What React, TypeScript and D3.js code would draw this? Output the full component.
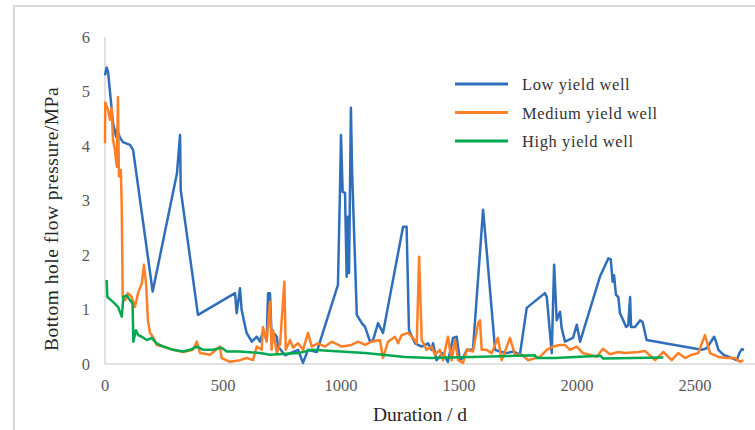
import React from "react";
import * as d3 from "d3";

// [duration (d), bottom hole flow pressure (MPa)]
const lowYield: [number, number][] = [
  [0, 5.3], [7, 5.44], [13, 5.36], [34, 4.42], [47, 4.17], [51, 4.3], [64, 4.15], [76, 4.07],
  [106, 4.02], [119, 3.93], [202, 1.33], [305, 3.5], [318, 4.2], [321, 3.19], [394, 0.9],
  [551, 1.3], [558, 0.93], [572, 1.39], [579, 0.99], [600, 0.57], [622, 0.41], [643, 0.5],
  [657, 0.41], [669, 0.59], [685, 0.44], [691, 1.3], [699, 1.3], [705, 0.62], [728, 0.5],
  [733, 0.32], [763, 0.16], [818, 0.26], [839, 0.02], [860, 0.26], [897, 0.22], [987, 1.45],
  [996, 3.25], [1000, 4.2], [1007, 3.16], [1017, 3.14], [1024, 1.6], [1028, 2.7], [1034, 1.67],
  [1042, 4.7], [1047, 3.53], [1067, 0.9], [1088, 0.75], [1102, 0.68], [1123, 0.41], [1136, 0.44],
  [1157, 0.75], [1178, 0.57], [1263, 2.52], [1278, 2.52], [1288, 0.62], [1314, 0.38], [1342, 0.32],
  [1369, 0.38], [1384, 0.26], [1390, 0.38], [1405, 0.07], [1432, 0.2], [1453, 0.04], [1475, 0.48],
  [1490, 0.5], [1504, 0.07], [1517, 0.11], [1533, 0.26], [1559, 0.26], [1602, 2.83], [1617, 2.09],
  [1653, 0.26], [1674, 0.23], [1702, 0.2], [1729, 0.23], [1758, 0.17], [1787, 1.03], [1864, 1.3],
  [1872, 1.23], [1893, 0.2], [1903, 1.82], [1914, 0.8], [1928, 0.96], [1935, 0.66], [1949, 0.41],
  [1983, 0.48], [1999, 0.72], [2013, 0.41], [2097, 1.6], [2133, 1.94], [2143, 1.92], [2151, 1.51],
  [2157, 1.63], [2165, 1.27], [2175, 1.23], [2182, 0.93], [2196, 0.8], [2208, 0.68], [2217, 0.71],
  [2225, 1.23], [2229, 0.68], [2246, 0.68], [2267, 0.8], [2278, 0.77], [2295, 0.44], [2528, 0.26],
  [2550, 0.29], [2581, 0.5], [2589, 0.41], [2599, 0.26], [2620, 0.17], [2677, 0.07], [2688, 0.2],
  [2698, 0.27], [2708, 0.26],
];

const mediumYield: [number, number][] = [
  [0, 4.05], [1, 4.8], [13, 4.66], [21, 4.48], [28, 4.7], [34, 4.11], [42, 3.93], [50, 3.62],
  [55, 4.9], [59, 3.44], [67, 3.56], [71, 2.89], [75, 1.23], [85, 1.17], [97, 1.3], [113, 1.23],
  [127, 1.05], [140, 1.3], [156, 1.48], [165, 1.82], [174, 1.48], [182, 0.8], [191, 0.57],
  [203, 0.5], [219, 0.35], [246, 0.32], [288, 0.26], [331, 0.22], [373, 0.26], [389, 0.41],
  [403, 0.2], [445, 0.17], [487, 0.32], [494, 0.11], [530, 0.04], [572, 0.07], [600, 0.11],
  [627, 0.07], [643, 0.32], [664, 0.26], [669, 0.68], [685, 0.41], [699, 1.14], [706, 0.26],
  [712, 0.62], [728, 0.2], [742, 0.38], [760, 1.51], [766, 0.26], [784, 0.44], [797, 0.3],
  [818, 0.38], [839, 0.26], [860, 0.57], [876, 0.32], [903, 0.38], [932, 0.32], [961, 0.41],
  [1003, 0.32], [1045, 0.35], [1072, 0.41], [1102, 0.35], [1130, 0.41], [1165, 0.44], [1178, 0.11],
  [1199, 0.41], [1229, 0.5], [1242, 0.38], [1257, 0.53], [1284, 0.57], [1305, 0.48], [1321, 0.38],
  [1331, 1.97], [1342, 0.44], [1363, 0.26], [1384, 0.32], [1398, 0.17], [1419, 0.26], [1432, 0.07],
  [1453, 0.5], [1469, 0.07], [1483, 0.44], [1496, 0.07], [1517, 0.02], [1533, 0.26], [1559, 0.23],
  [1575, 0.59], [1581, 0.75], [1589, 0.8], [1596, 0.26], [1617, 0.26], [1639, 0.2], [1665, 0.48],
  [1681, 0.07], [1716, 0.48], [1737, 0.17], [1766, 0.17], [1792, 0.07], [1843, 0.13], [1872, 0.26],
  [1898, 0.32], [1928, 0.35], [1949, 0.35], [1970, 0.26], [1999, 0.32], [2025, 0.2], [2055, 0.17],
  [2083, 0.13], [2110, 0.28], [2140, 0.18], [2175, 0.22], [2203, 0.2], [2260, 0.22], [2288, 0.24],
  [2331, 0.07], [2366, 0.22], [2401, 0.07], [2429, 0.2], [2458, 0.11], [2486, 0.17], [2514, 0.2],
  [2542, 0.53], [2564, 0.2], [2599, 0.13], [2634, 0.11], [2669, 0.11], [2691, 0.04], [2705, 0.07],
];

const highYield: [number, number][] = [
  [7, 1.54], [10, 1.23], [34, 1.14], [55, 1.05], [71, 0.87], [78, 1.23], [92, 1.26], [106, 1.17],
  [117, 1.11], [120, 0.41], [131, 0.62], [141, 0.53], [156, 0.5], [177, 0.44], [198, 0.48],
  [219, 0.38], [247, 0.32], [289, 0.26], [332, 0.23], [360, 0.26], [389, 0.32], [417, 0.26],
  [459, 0.26], [494, 0.3], [516, 0.23], [572, 0.23], [657, 0.2], [699, 0.17], [819, 0.2],
  [876, 0.26], [1102, 0.2], [1271, 0.13], [1384, 0.11], [1822, 0.16], [1830, 0.11], [1907, 0.11],
  [2100, 0.15], [2110, 0.1], [2366, 0.12],
];

const xTicks = [0, 500, 1000, 1500, 2000, 2500];
const yTicks = [0, 1, 2, 3, 4, 5, 6];

const series = [
  { name: "Low yield well", data: lowYield, color: "#2f6eba" },
  { name: "Medium yield well", data: mediumYield, color: "#ff7f27" },
  { name: "High yield well", data: highYield, color: "#00a84f" },
];

export default function App() {
  const w = 755;
  const h = 430;
  const x = d3.scaleLinear().domain([0, 2500]).range([105, 695]);
  const y = d3.scaleLinear().domain([0, 6]).range([364, 37]);
  const line = d3
    .line<[number, number]>()
    .x((d) => x(d[0]))
    .y((d) => y(d[1]));
  const font = "'Liberation Serif', 'Times New Roman', serif";

  return (
    <svg
      width={w}
      height={h}
      style={{ position: "absolute", left: 0, top: 0, background: "#fff" }}
      fontFamily={font}
    >
      {/* outer frame */}
      <rect x={14} y={6} width={w} height={h} fill="none" stroke="#d9d9d9" strokeWidth={2} />

      {/* axes */}
      <line x1={x(0)} x2={w} y1={y(0)} y2={y(0)} stroke="#d9d9d9" strokeWidth={1.5} />
      <line x1={x(0)} x2={x(0)} y1={y(6)} y2={y(0)} stroke="#d9d9d9" strokeWidth={1.5} />

      {yTicks.map((t) => (
        <text key={t} x={90} y={y(t)} dy="0.35em" textAnchor="end" fontSize={16.5} fill="#595959">
          {t}
        </text>
      ))}
      {xTicks.map((t) => (
        <text key={t} x={x(t)} y={391} textAnchor="middle" fontSize={16.5} fill="#595959">
          {t}
        </text>
      ))}

      {/* data */}
      {series.map((s) => (
        <path
          key={s.name}
          d={line(s.data) || ""}
          fill="none"
          stroke={s.color}
          strokeWidth={2.5}
          strokeLinejoin="round"
        />
      ))}

      {/* axis titles */}
      <text
        transform={`translate(58,219) rotate(-90)`}
        textAnchor="middle"
        fontSize={19.5}
        letterSpacing={0.5}
        fill="#262626"
      >
        Bottom hole flow pressure/MPa
      </text>
      <text x={420} y={421} textAnchor="middle" fontSize={19.5} fill="#262626">
        Duration / d
      </text>

      {/* legend */}
      {series.map((s, i) => (
        <g key={s.name} transform={`translate(0,${84 + i * 28.5})`}>
          <line x1={455} x2={508} y1={0} y2={0} stroke={s.color} strokeWidth={3} />
          <text x={522} y={6} fontSize={16.5} fill="#333" letterSpacing={0.6}>
            {s.name}
          </text>
        </g>
      ))}
    </svg>
  );
}
